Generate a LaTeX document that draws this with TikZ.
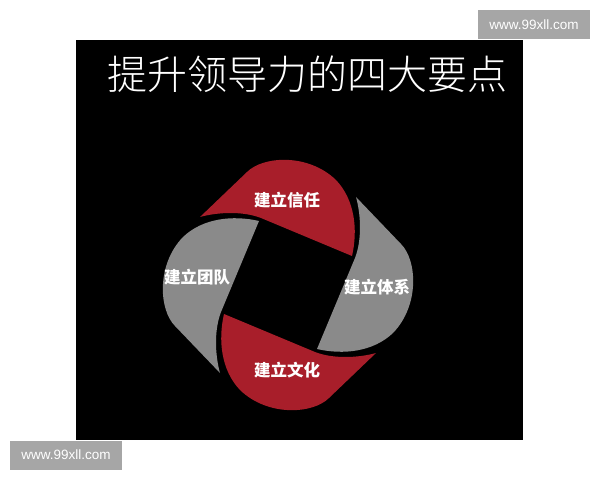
\documentclass[tikz,border=0pt]{standalone}
\usepackage{fontspec}
\newfontfamily\cjk{Noto Sans CJK SC}
\IfFontExistsTF{Noto Sans CJK SC Light}{%
  \newfontfamily\cjklight{Noto Sans CJK SC Light}}{%
  \newfontfamily\cjklight{Noto Sans CJK SC}}
\setsansfont{Liberation Sans}
\usepackage{xcolor}
\usepackage{tikz}

\definecolor{petalred}{RGB}{168,30,42}
\definecolor{petalgray}{RGB}{138,138,138}
\definecolor{wmgray}{RGB}{166,166,166}

\begin{document}
\begin{tikzpicture}[%基本設定
          x=1pt,y=1pt,
          petaltext/.style={
              text=white,
              font=\cjk\bfseries\fontsize{16.5}{18}\selectfont
            },titletext/.style={
              text=white,
              font=\cjklight\fontsize{40}{44}\selectfont
            },watermark/.style={
              fill=wmgray,
              text=white,
              font=\sffamily\fontsize{13.5}{15}\selectfont,
              minimum width=112,
              minimum height=29,
              inner sep=0pt
            }
        ]

        % 背景
        \fill[white] (0,0) rectangle (600,480);
        \useasboundingbox (0,0) rectangle (600,480);
        \fill[black] (76,40) rectangle (523,440);

        % タイトル
        \node[titletext] (title) at (307,406) {提升领导力的四大要点};

        % 中心の定義
        \coordinate (center) at (288,195);

        % 四枚の花びら
        \foreach \a/\col/\name/\txt/\pos in {0/petalred/trust/建立信任/{287,280},
            -90/petalgray/system/建立体系/{377,193},
            180/petalred/culture/建立文化/{287,110},
            90/petalgray/team/建立团队/{197,203}}{
          \fill[
            \col,
            shift={(center)},
            rotate=\a
          ] (-88,68) -- (-41,113)
            .. controls (-25,129) and (20,132) .. (48,105)
            .. controls (67,85) and (70,55) .. (64,29)
            -- (-27,67) .. controls (-45,74) and (-70,73) .. (-88,68) -- cycle;
          \node[petaltext] (\name) at (\pos) {\txt};
        }

        % 透かし
        \node[watermark] (wmtop) at (534,455.5) {www.99xll.com};
        \node[watermark] (wmbottom) at (66,25) {www.99xll.com};
      \end{tikzpicture}
\end{document}
